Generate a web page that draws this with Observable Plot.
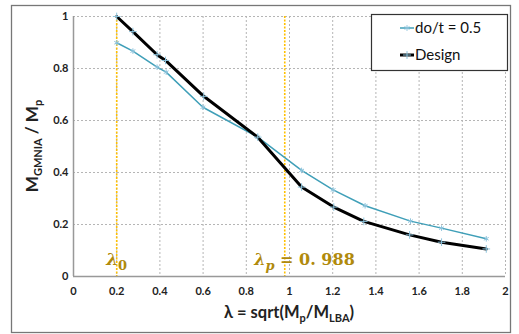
<!DOCTYPE html>
<html><head><meta charset="utf-8">
<script src="https://cdn.jsdelivr.net/npm/d3@7"></script>
<script src="https://cdn.jsdelivr.net/npm/@observablehq/plot@0.6"></script>
<style>body{margin:0;background:#fff}#chart{width:519px;height:334px}</style>
</head><body><div id="chart"></div>
<script>
const seriesNames = ["do/t = 0.5", "Design"];
const lambdaGmnia = [0.2, 0.275, 0.387, 0.429, 0.599, 0.853, 1.056, 1.202, 1.35, 1.56, 1.704, 1.911];
const mGmnia      = [0.899, 0.867, 0.805, 0.786, 0.651, 0.536, 0.408, 0.333, 0.272, 0.213, 0.186, 0.145];
const lambdaDesign = [0.2, 0.275, 0.387, 0.426, 0.603, 0.853, 1.056, 1.205, 1.344, 1.556, 1.704, 1.911];
const mDesign      = [1.0, 0.942, 0.853, 0.831, 0.693, 0.536, 0.344, 0.267, 0.212, 0.160, 0.132, 0.106];
const xTicks = [0, 0.2, 0.4, 0.6, 0.8, 1, 1.2, 1.4, 1.6, 1.8, 2];
const xTickLabels = ["0", "0.2", "0.4", "0.6", "0.8", "1", "1.2", "1.4", "1.6", "1.8", "2"];
const yTicks = [0, 0.2, 0.4, 0.6, 0.8, 1];
const yTickLabels = ["0", "0.2", "0.4", "0.6", "0.8", "1"];
const lambda0 = 0.2;
const lambdaP = 0.978;
const lambdaPLabel = "0. 988";

const gmnia = lambdaGmnia.map((x, i) => ({x, y: mGmnia[i]}));
const design = lambdaDesign.map((x, i) => ({x, y: mDesign[i]}));

const blue = "#3f9fb8", markerBlue = "#8cc3dc", gold = "#ffc000", goldText = "#b08a0c";

const plot = Plot.plot({
  width: 519, height: 334,
  marginLeft: 73, marginRight: 14, marginTop: 16, marginBottom: 58,
  style: {fontFamily: "Lato, sans-serif", background: "white", color: "#222"},
  x: {domain: [0, 2]},
  y: {domain: [0, 1]},
  marks: [
    Plot.gridX(xTicks, {stroke: "#b5b5b5", strokeOpacity: 1, strokeDasharray: "2,2"}),
    Plot.gridY(yTicks, {stroke: "#b5b5b5", strokeOpacity: 1, strokeDasharray: "2,2"}),
    Plot.ruleX([lambda0, lambdaP], {stroke: gold, strokeWidth: 1.6, strokeDasharray: "2,1.5"}),
    Plot.ruleY([0], {stroke: "#999", strokeWidth: 1.5}),
    Plot.ruleX([0], {stroke: "#999", strokeWidth: 1.5}),
    Plot.axisX(xTicks, {tickSize: 0, tickPadding: 11, fontWeight: "bold", fontSize: 11, tickFormat: (d, i) => xTickLabels[i], label: null}),
    Plot.axisY(yTicks, {tickSize: 0, tickPadding: 5, fontWeight: "bold", fontSize: 11, tickFormat: (d, i) => yTickLabels[i], label: null}),
    Plot.line(gmnia, {x: "x", y: "y", stroke: blue, strokeWidth: 1.5}),
    Plot.dot(gmnia, {x: "x", y: "y", symbol: "asterisk", r: 2.6, stroke: markerBlue, strokeWidth: 1}),
    Plot.line(design, {x: "x", y: "y", stroke: "#000", strokeWidth: 3}),
    Plot.dot(design, {x: "x", y: "y", symbol: "plus", r: 2.6, stroke: markerBlue, strokeWidth: 1})
  ]
});

const svg = d3.select(plot);
const xs = plot.scale("x"), ys = plot.scale("y");
const [x0, x1] = xs.range, [yb, yt] = ys.range;

// outer frame
svg.insert("rect", ":first-child").attr("x", 11.5).attr("y", 5.5).attr("width", 499).attr("height", 327)
  .attr("fill", "white").attr("stroke", "#777").attr("stroke-width", 1.3);

const serif = "'DejaVu Serif', serif";
// lambda labels
const l0 = svg.append("text").attr("x", xs.apply(lambda0) - 10).attr("y", ys.apply(0) - 11)
  .attr("text-anchor", "start").attr("fill", goldText)
  .style("font-family", serif).style("font-weight", "bold").style("font-size", "17px");
l0.append("tspan").style("font-style", "italic").text("λ");
l0.append("tspan").attr("dy", 5).style("font-size", "13px").text("0");

const lp = svg.append("text").attr("x", xs.apply(lambdaP) - 30).attr("y", ys.apply(0) - 11)
  .attr("text-anchor", "start").attr("fill", goldText)
  .style("font-family", serif).style("font-weight", "bold").style("font-size", "16px");
lp.append("tspan").style("font-style", "italic").text("λ");
lp.append("tspan").attr("dy", 5).style("font-size", "13px").style("font-style", "italic").text("p");
lp.append("tspan").attr("dy", -5).text(" = " + lambdaPLabel);

// axis labels
const xl = svg.append("text").attr("x", (x0 + x1) / 2).attr("y", 318).attr("text-anchor", "middle")
  .style("font-weight", "bold").style("font-size", "16.5px").attr("fill", "#222");
xl.append("tspan").text("λ = sqrt(M");
xl.append("tspan").attr("dy", 4).style("font-size", "11px").text("p");
xl.append("tspan").attr("dy", -4).text("/M");
xl.append("tspan").attr("dy", 4).style("font-size", "11px").text("LBA");
xl.append("tspan").attr("dy", -4).text(")");

const yl = svg.append("text").attr("transform", `translate(38,${(yb + yt) / 2}) rotate(-90)`).attr("text-anchor", "middle")
  .style("font-weight", "bold").style("font-size", "17px").attr("fill", "#222");
yl.append("tspan").text("M");
yl.append("tspan").attr("dy", 4).style("font-size", "11px").text("GMNIA");
yl.append("tspan").attr("dy", -4).text(" / M");
yl.append("tspan").attr("dy", 4).style("font-size", "11px").text("p");

// legend
const lg = svg.append("g").attr("text-anchor", "start");
lg.append("rect").attr("x", 371.5).attr("y", 14.5).attr("width", 136).attr("height", 56)
  .attr("fill", "white").attr("stroke", "#333").attr("stroke-width", 1.2);
const entries = [
  {name: seriesNames[0], stroke: blue, w: 1.5, sym: "asterisk", y: 28},
  {name: seriesNames[1], stroke: "#000", w: 3, sym: "plus", y: 55}
];
entries.forEach(e => {
  lg.append("line").attr("x1", 400).attr("x2", 414).attr("y1", e.y).attr("y2", e.y)
    .attr("stroke", e.stroke).attr("stroke-width", e.w);
  lg.append("path").attr("transform", `translate(407,${e.y})`)
    .attr("d", d3.symbol(e.sym === "plus" ? d3.symbolPlus : d3.symbolAsterisk, 22)())
    .attr("fill", "none").attr("stroke", markerBlue);
  lg.append("text").attr("x", 415).attr("y", e.y).attr("dy", "0.35em").attr("text-anchor", "start")
    .style("font-size", "15px").attr("fill", "#111").text(e.name);
});

document.getElementById("chart").appendChild(plot);
</script></body></html>
